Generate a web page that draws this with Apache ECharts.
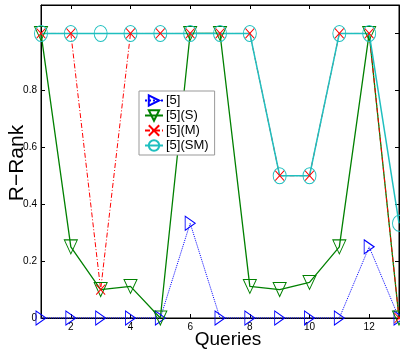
<!DOCTYPE html>
<html><head><meta charset="utf-8">
<script src="https://cdn.jsdelivr.net/npm/echarts@6/dist/echarts.min.js"></script>
<style>html,body{margin:0;padding:0;background:#fff}#c{width:400px;height:352px}</style>
</head><body><div id="c"></div>
<script>
var queries = [1,2,3,4,5,6,7,8,9,10,11,12,13];
var s5    = [0,0,0,0,0,0.333,0,0,0,0,0,0.25,0];
var s5S   = [1,0.25,0.1,0.111,0,1,1,0.111,0.1,0.125,0.25,1,0];
var s5M   = [1,1,0.1,1,1,1,1,1,0.5,0.5,1,1,0];
var s5SM  = [1,1,1,1,1,1,1,1,0.5,0.5,1,1,0.333];
var names = ['[5]','[5](S)','[5](M)','[5](SM)'];
var xTicks = [2,4,6,8,10,12];
var yLabels = [0,0.2,0.4,0.6,0.8];
var yTicks = [0,0.2,0.4,0.6,0.8,1];

function pairs(v){ return queries.map(function(q,i){return [q, v[i]];}); }
var FONT = 'Liberation Sans Narrow, Liberation Sans, Arial, sans-serif';
var C = {b:'#0000ff', g:'#008000', r:'#ff0000', c:'#1fbfbf'};

function mk(name, data, color, symbol, size, lt, lw){
  return {
    name: name, type: 'line', data: pairs(data), clip: false,
    symbol: symbol, symbolSize: size, showAllSymbol: true,
    lineStyle: {color: color, width: lw, type: lt},
    itemStyle: {color: 'rgba(0,0,0,0)', borderColor: color, borderWidth: 1},
    emphasis: {disabled: true}
  };
}
var chart = echarts.init(document.getElementById('c'));
var axisBase = {
  type: 'value', splitLine: {show: false},
  axisLine: {show: true, onZero: false, lineStyle: {color: '#000', width: 1}}
};
chart.setOption({
  animation: false,
  grid: {left: 41, top: 5, right: 1, bottom: 34, show: true, borderColor: '#000', borderWidth: 1, containLabel: false},
  xAxis: [
    Object.assign({}, axisBase, {min: 1, max: 13, position: 'bottom',
      axisTick: {inside: true, length: 4, customValues: xTicks, lineStyle:{color:'#000'}},
      axisLabel: {customValues: xTicks, fontSize: 10, color: '#000', fontFamily: FONT, margin: 4}}),
    Object.assign({}, axisBase, {min: 1, max: 13, position: 'top',
      axisTick: {inside: true, length: 4, customValues: xTicks, lineStyle:{color:'#000'}},
      axisLabel: {show: false}})
  ],
  yAxis: [
    Object.assign({}, axisBase, {min: 0, max: 1.1, position: 'left',
      axisTick: {inside: true, length: 4, customValues: yTicks, lineStyle:{color:'#000'}},
      axisLabel: {customValues: yLabels, fontSize: 10, color: '#000', fontFamily: FONT, margin: 4,
        formatter: function(v){ return v === 0 ? '0' : String(+v.toFixed(1)); }}}),
    Object.assign({}, axisBase, {min: 0, max: 1.1, position: 'right',
      axisTick: {inside: true, length: 4, customValues: yTicks, lineStyle:{color:'#000'}},
      axisLabel: {show: false}})
  ],
  legend: {
    orient: 'vertical', left: 139, top: 91, width: 74,
    data: names, itemWidth: 18, itemHeight: 13, itemGap: 2,
    padding: [3, 6, 3, 5], borderColor: '#999', borderWidth: 1, backgroundColor: '#fff',
    textStyle: {fontSize: 13, color: '#000', fontFamily: FONT, padding: [0,0,0,-2]},
    selectedMode: false
  },
  series: [
    mk(names[0], s5, C.b, 'path://M0,0L10,5L0,10Z', [10,14], 'dotted', 1),
    mk(names[1], s5S, C.g, 'path://M0,0L10,0L5,10Z', [13,14], 'solid', 1.3),
    mk(names[2], s5M, C.r, 'path://M0,0L10,10M0,10L10,0', [9,10], [5,2,1,2], 1),
    mk(names[3], s5SM, C.c, 'circle', [13,16], 'solid', 1.5)
  ],
  graphic: [
    {type: 'text', x: 228, y: 340, style: {text: 'Queries', fontSize: 19, fontFamily: 'Liberation Sans, Arial, sans-serif', fill: '#000', align: 'center', verticalAlign: 'middle'}},
    {type: 'text', x: 17, y: 163, rotation: Math.PI/2, style: {text: 'R\u2212Rank', fontSize: 21, fontFamily: 'Liberation Sans, Arial, sans-serif', fill: '#000', align: 'center', verticalAlign: 'middle'}}
  ]
});
</script></body></html>
